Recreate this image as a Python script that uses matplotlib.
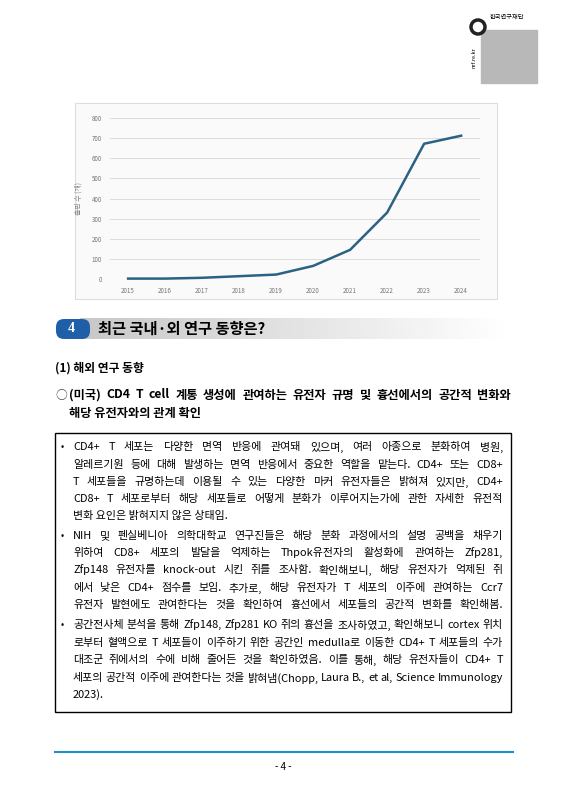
import numpy as np
import matplotlib
matplotlib.use("Agg")
import matplotlib.pyplot as plt
from matplotlib.patches import Rectangle, FancyBboxPatch

plt.rcParams['font.family'] = ['Noto Sans CJK KR', 'DejaVu Sans']

# --- datos del gráfico ---
years = [2015, 2016, 2017, 2018, 2019, 2020, 2021, 2022, 2023, 2024]
counts = [2, 2, 6, 14, 22, 65, 145, 330, 672, 712]
y_ticks = [0, 100, 200, 300, 400, 500, 600, 700, 800]
y_label = "출판 수 (개)"

W, H = 566, 800
fig = plt.figure(figsize=(W / 100, H / 100), dpi=100)
page = fig.add_axes([0, 0, 1, 1])
page.set_xlim(0, W)
page.set_ylim(H, 0)
page.axis("off")
renderer = fig.canvas.get_renderer()

def px_axes(x0, y0, x1, y1):
    return fig.add_axes([x0 / W, 1 - y1 / H, (x1 - x0) / W, (y1 - y0) / H])

def justified(x0, x1, y, txt, size, weight="normal", justify=True):
    # reparte las palabras entre x0 y x1 (texto justificado)
    words = txt.split()
    if not justify or len(words) < 2:
        page.text(x0, y, txt, fontsize=size, fontweight=weight, va="center")
        return
    objs, widths = [], []
    for w in words:
        t = page.text(0, y, w, fontsize=size, fontweight=weight, va="center")
        widths.append(t.get_window_extent(renderer).width)
        objs.append(t)
    gap = (x1 - x0 - sum(widths)) / (len(words) - 1)
    x = x0
    for t, wd in zip(objs, widths):
        t.set_x(x)
        x += wd + gap

# --- logo ---
page.add_patch(Rectangle((481, 30), 56, 53, color="#b8b8b8"))
page.text(507, 17, "한국연구재단", fontsize=4.5, ha="center", va="center")
page.text(474, 58, "nrf.re.kr", fontsize=4, rotation=90, ha="center", va="center")
page.add_patch(plt.Circle((478, 27), 7, fill=False, lw=2.5, color="#222222"))

# --- marco del gráfico ---
page.add_patch(Rectangle((75, 103), 422, 196, fill=True, fc="#fafafa", ec="#dddddd", lw=0.8))
ax = px_axes(110, 118, 480, 279)
ax.set_facecolor("none")
ax.plot(years, counts, color="#2b6283", lw=1.8, clip_on=False)
ax.set_xlim(2014.51, 2024.51)
ax.set_ylim(0, 800)
ax.set_yticks(y_ticks)
ax.set_xticks(years)
ax.tick_params(labelsize=4.5, colors="#777777", length=0, pad=6)
ax.grid(axis="y", color="#dddddd", lw=0.7)
for s in ax.spines.values():
    s.set_visible(False)
ax.set_ylabel(y_label, fontsize=5, color="#888888", labelpad=6)

# --- encabezado de sección ---
grad = np.linspace(0.78, 1.0, 200).reshape(1, -1)
page.imshow(grad, cmap="gray", vmin=0, vmax=1, extent=(80, 512, 339, 318), aspect="auto", zorder=1)
page.add_patch(FancyBboxPatch((56, 319), 34, 20, boxstyle="round,pad=0,rounding_size=8",
                              fc="#1f5fa8", ec="none", zorder=2))
page.text(71, 329, "4", fontsize=10, color="white", fontweight="bold", ha="center", va="center",
          family=["Liberation Serif"], zorder=3)
page.text(98, 329, "최근 국내·외 연구 동향은?", fontsize=11, fontweight="bold", va="center", zorder=3)

page.text(55, 368, "(1) 해외 연구 동향", fontsize=8.5, fontweight="bold", va="center")
page.text(55, 395, "○", fontsize=8.5, va="center", color="#444444")
justified(69, 511, 395, "(미국) CD4 T cell 계통 생성에 관여하는 유전자 규명 및 흉선에서의 공간적 변화와",
          8.8, "bold")
page.text(69, 414, "해당 유전자와의 관계 확인", fontsize=8.8, fontweight="bold", va="center")

# --- recuadro ---
page.add_patch(Rectangle((55, 433), 456, 279, fill=False, ec="black", lw=1.0))
lines = [
    (447, True, True, "CD4+ T 세포는 다양한 면역 반응에 관여돼 있으며, 여러 아종으로 분화하여 병원,"),
    (465, False, True, "알레르기원 등에 대해 발생하는 면역 반응에서 중요한 역할을 맡는다. CD4+ 또는 CD8+"),
    (482, False, True, "T 세포들을 규명하는데 이용될 수 있는 다양한 마커 유전자들은 밝혀져 있지만, CD4+"),
    (499, False, True, "CD8+ T 세포로부터 해당 세포들로 어떻게 분화가 이루어지는가에 관한 자세한 유전적"),
    (516, False, False, "변화 요인은 밝혀지지 않은 상태임."),
    (536, True, True, "NIH 및 펜실베니아 의학대학교 연구진들은 해당 분화 과정에서의 설명 공백을 채우기"),
    (553, False, True, "위하여 CD8+ 세포의 발달을 억제하는 Thpok유전자의 활성화에 관여하는 Zfp281,"),
    (570, False, True, "Zfp148 유전자를 knock-out 시킨 쥐를 조사함. 확인해보니, 해당 유전자가 억제된 쥐"),
    (588, False, True, "에서 낮은 CD4+ 점수를 보임. 추가로, 해당 유전자가 T 세포의 이주에 관여하는 Ccr7"),
    (605, False, True, "유전자 발현에도 관여한다는 것을 확인하여 흉선에서 세포들의 공간적 변화를 확인해봄."),
    (625, True, True, "공간전사체 분석을 통해 Zfp148, Zfp281 KO 쥐의 흉선을 조사하였고, 확인해보니 cortex 위치"),
    (643, False, True, "로부터 혈액으로 T 세포들이 이주하기 위한 공간인 medulla로 이동한 CD4+ T 세포들의 수가"),
    (660, False, True, "대조군 쥐에서의 수에 비해 줄어든 것을 확인하였음. 이를 통해, 해당 유전자들이 CD4+ T"),
    (678, False, True, "세포의 공간적 이주에 관여한다는 것을 밝혀냄(Chopp, Laura B., et al, Science Immunology"),
    (695, False, False, "2023)."),
]
for y, bullet, just, txt in lines:
    if bullet:
        page.text(61, y, "•", fontsize=7, va="center")
    justified(73, 503, y, txt, 7.9, justify=just)

# --- pie de página ---
page.plot([55, 513], [752, 752], color="#1f8fd0", lw=1.5)
page.text(283, 767, "- 4 -", fontsize=7, ha="center", va="center")

fig.savefig("out.png", dpi=100)
